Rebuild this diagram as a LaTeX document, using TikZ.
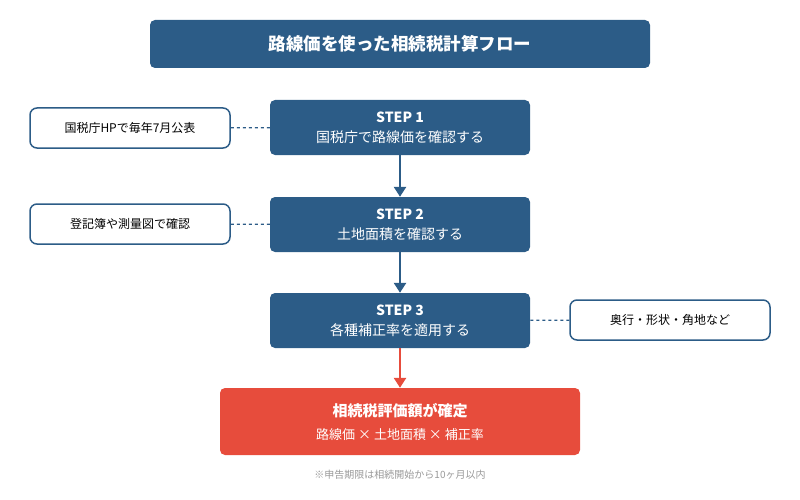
\documentclass[tikz,border=0pt]{standalone}
\usepackage{fontspec}
\setmainfont{Noto Sans CJK JP}
\usetikzlibrary{positioning, arrows.meta}
\definecolor{navy}{HTML}{2C5C87}
\definecolor{alert}{HTML}{E74C3C}
\tikzset{
    stepbox/.style={fill=navy, text=white, rounded corners=5pt, minimum width=260pt, minimum height=55pt, align=center, font=\fontsize{14}{20}\selectfont},
    note/.style={draw=navy, line width=1.5pt, fill=white, rounded corners=7pt, minimum width=200pt, minimum height=40pt, font=\fontsize{12}{14}\selectfont},
    link/.style={navy, dashed, line width=1.2pt},
    flow/.style={-{Triangle[length=10pt,width=12pt]}, line width=2.5pt, navy},
}
\begin{document}
\begin{tikzpicture}[x=1pt, y=-1pt]
    \useasboundingbox (0,0) rectangle (800,500);
    % title
    \node[stepbox, minimum width=500pt, minimum height=48pt, font=\fontsize{17.5}{20}\selectfont\bfseries] (title) at (400,44) {路線価を使った相続税計算フロー};
    % steps
    \node[stepbox] (s1) at (400,127.5) {\textbf{STEP 1}\\国税庁で路線価を確認する};
    \node[stepbox] (s2) at (400,224.5) {\textbf{STEP 2}\\土地面積を確認する};
    \node[stepbox] (s3) at (400,320.5) {\textbf{STEP 3}\\各種補正率を適用する};
    \node[stepbox, fill=alert, minimum width=360pt, minimum height=67pt] (res) at (400,421.5) {{\fontsize{15}{20}\selectfont\bfseries 相続税評価額が確定}\\[3pt]{\fontsize{13}{15}\selectfont 路線価 × 土地面積 × 補正率}};
    % notes
    \node[note] (n1) at (130,128) {国税庁HPで毎年7月公表};
    \node[note] (n2) at (130,224) {登記簿や測量図で確認};
    \node[note] (n3) at (670,320) {奥行・形状・角地など};
    \draw[link] (n1) -- (s1);
    \draw[link] (n2) -- (s2);
    \draw[link] (n3) -- (s3);
    % arrows
    \draw[flow] (s1) -- (s2);
    \draw[flow] (s2) -- (s3);
    \draw[flow, alert] (s3) -- (res);
    \node[text=gray!80, font=\fontsize{10}{12}\selectfont] (memo) at (400,475) {※申告期限は相続開始から10ヶ月以内};
\end{tikzpicture}
\end{document}
